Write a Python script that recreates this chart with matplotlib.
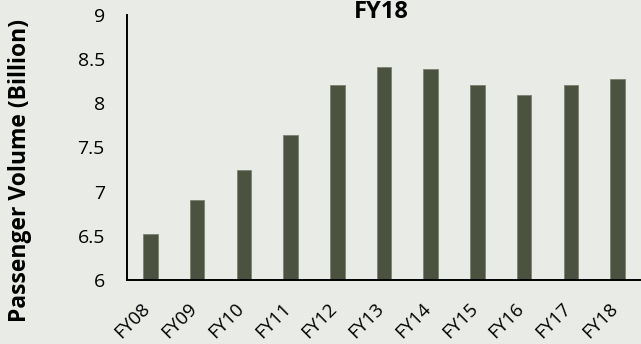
import matplotlib
matplotlib.use("Agg")
import matplotlib.pyplot as plt
import matplotlib.transforms as mtransforms
import numpy as np

# ── Data ───────────────────────────────────────────────────────────────────── #
years = ["FY08", "FY09", "FY10", "FY11", "FY12", "FY13",
         "FY14", "FY15", "FY16", "FY17", "FY18"]
volume_bn = [6.52, 6.91, 7.24, 7.64, 8.21, 8.41, 8.39, 8.21, 8.09, 8.21, 8.28]
y_ticks = [6, 6.5, 7, 7.5, 8, 8.5, 9]
y_tick_labels = ["6", "6.5", "7", "7.5", "8", "8.5", "9"]

BG = "#e9ebe6"
BAR = "#4b5340"

plt.rcParams["font.family"] = ["Open Sans", "DejaVu Sans"]

fig = plt.figure(figsize=(6.41, 3.44), dpi=100, facecolor=BG)
ax = fig.add_axes([127 / 641, 64 / 344, 514 / 641, 265 / 344])
ax.set_facecolor(BG)

x = np.arange(len(years))
ax.bar(x, volume_bn, width=0.31, color=BAR, edgecolor="#7b8270", linewidth=0.6)

ax.set_xlim(-0.5, len(years) - 0.5)
ax.set_ylim(6, 9)
ax.set_yticks(y_ticks)
ax.set_yticklabels(y_tick_labels, fontsize=14)
ax.set_xticks(x)
ax.set_xticklabels(years, fontsize=13.5, rotation=45, ha="right", va="center",
                   rotation_mode="anchor")
ax.tick_params(axis="x", length=0, pad=19)
ax.tick_params(axis="y", length=0, pad=16)

# nudge the slanted year labels a little to the left
shift = mtransforms.ScaledTranslation(-2 / 72, 0, fig.dpi_scale_trans)
for lbl in ax.get_xticklabels():
    lbl.set_transform(lbl.get_transform() + shift)

for side in ("top", "right"):
    ax.spines[side].set_visible(False)
for side in ("left", "bottom"):
    ax.spines[side].set_linewidth(1.4)
    ax.spines[side].set_color("black")

fig.text(20 / 641, 1 - 171 / 344, "Passenger Volume (Billion)", rotation=90,
         ha="center", va="center", fontsize=16.5, fontweight="bold")
fig.text(381 / 641, 1.0, "FY18", ha="center", va="top", fontsize=17,
         fontweight="bold")

fig.savefig("out.png", dpi=100, facecolor=BG)
